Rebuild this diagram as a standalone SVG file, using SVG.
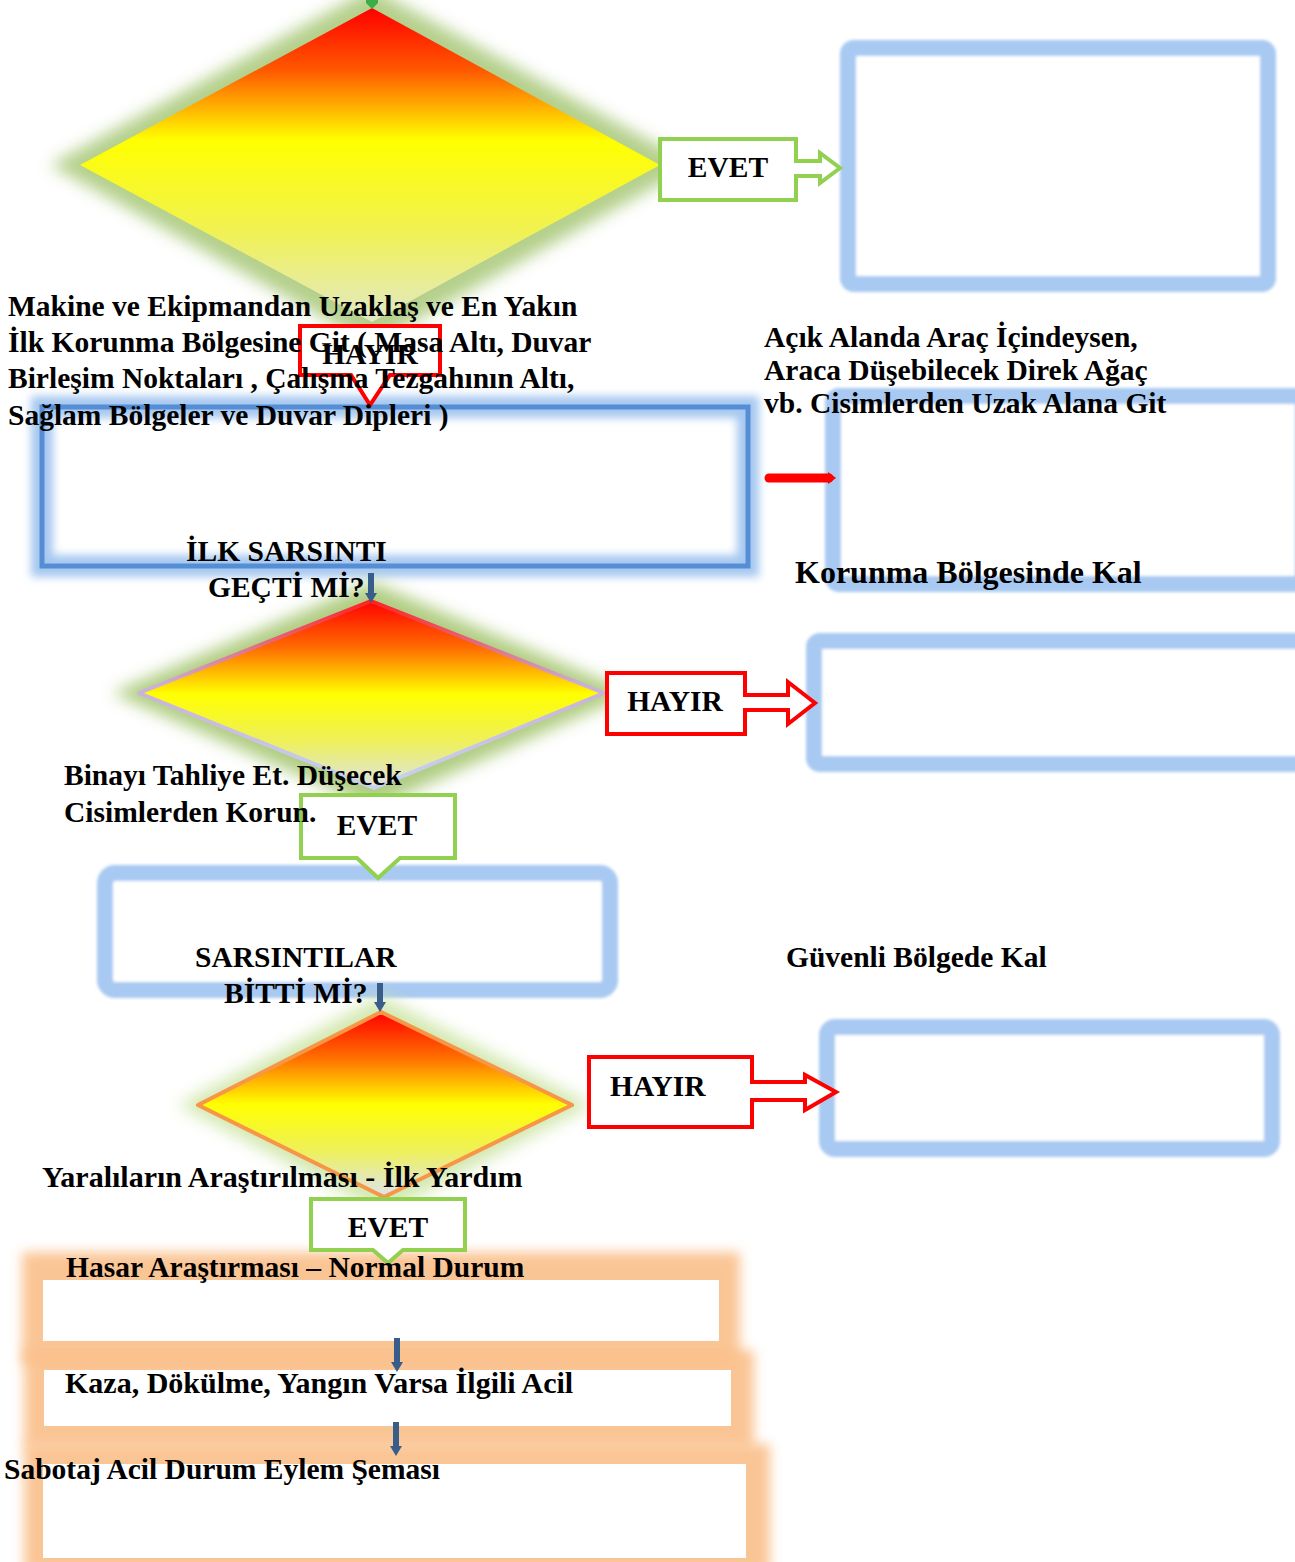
<svg xmlns="http://www.w3.org/2000/svg" width="1295" height="1562" viewBox="0 0 1295 1562">
  <style>
    .t { font-family: "Liberation Serif", "Times New Roman", serif; font-weight: bold; font-size: 29.5px; fill: #000; }
    .mid { text-anchor: middle; }
    .lbox { fill: #fff; stroke: #a8c9f1; stroke-width: 16; }
    .evet { fill: #fff; stroke: #92d050; stroke-width: 4; stroke-linejoin: miter; }
    .hayir { fill: #fff; stroke: #ff0000; stroke-width: 4; stroke-linejoin: miter; }
    .dbar { stroke: #385d8a; stroke-width: 6; fill: none; }
    .dhead { fill: #385d8a; }
    .orng { fill: #fabf8a; }
  </style>
  <defs>
    <filter id="glow" x="-20%" y="-20%" width="140%" height="140%">
      <feGaussianBlur stdDeviation="8"/>
    </filter>
    <filter id="soft" x="-10%" y="-10%" width="120%" height="120%">
      <feGaussianBlur stdDeviation="1.6"/>
    </filter>
    <filter id="halo" x="-10%" y="-20%" width="120%" height="140%">
      <feGaussianBlur stdDeviation="4"/>
    </filter>
    <filter id="oblur" x="-10%" y="-20%" width="120%" height="140%">
      <feGaussianBlur stdDeviation="6"/>
    </filter>
    <linearGradient id="g1" x1="0" y1="8" x2="0" y2="322" gradientUnits="userSpaceOnUse">
      <stop offset="0" stop-color="#ff0000"/>
      <stop offset="0.2" stop-color="#ff5a00"/>
      <stop offset="0.42" stop-color="#ffff00"/>
      <stop offset="0.7" stop-color="#f1f24f"/>
      <stop offset="1" stop-color="#e2e8c8"/>
    </linearGradient>
    <linearGradient id="g2" x1="0" y1="600" x2="0" y2="788" gradientUnits="userSpaceOnUse">
      <stop offset="0" stop-color="#ff0000"/>
      <stop offset="0.25" stop-color="#ff6a00"/>
      <stop offset="0.5" stop-color="#ffff00"/>
      <stop offset="0.75" stop-color="#eef05a"/>
      <stop offset="1" stop-color="#dde3e8"/>
    </linearGradient>
    <linearGradient id="g2s" x1="0" y1="600" x2="0" y2="788" gradientUnits="userSpaceOnUse">
      <stop offset="0" stop-color="#ff2020"/>
      <stop offset="0.45" stop-color="#c9b0d8"/>
      <stop offset="1" stop-color="#c6d3ef"/>
    </linearGradient>
    <linearGradient id="g3" x1="0" y1="1012" x2="0" y2="1197" gradientUnits="userSpaceOnUse">
      <stop offset="0" stop-color="#ff0000"/>
      <stop offset="0.25" stop-color="#ff7000"/>
      <stop offset="0.5" stop-color="#ffff00"/>
      <stop offset="0.75" stop-color="#eef05a"/>
      <stop offset="1" stop-color="#dde4f0"/>
    </linearGradient>
  </defs>

  <!-- Right column boxes (drawn first so arrow tips sit on top) -->
  <g id="box-right1">
    <rect class="lbox" x="848" y="48" width="420" height="236" rx="6" stroke-width="17" filter="url(#soft)"/>
  </g>
  <g id="box-right2">
    <rect class="lbox" x="833" y="396" width="470" height="188" rx="6" stroke-width="15" filter="url(#soft)"/>
  </g>
  <g id="box-right3">
    <rect class="lbox" x="814" y="641" width="500" height="123" rx="6" stroke="#b9d0ec" stroke-width="15" filter="url(#soft)"/>
  </g>
  <g id="box-right4">
    <rect class="lbox" x="827" y="1027" width="445" height="122" rx="8" stroke-width="17" filter="url(#soft)"/>
  </g>

  <!-- Decision 1 -->
  <g id="decision1">
    <polygon points="372,-12 50,165 372,345 694,165" fill="#a2c46e" opacity="0.8" filter="url(#glow)"/>
    <polygon points="372,8 80,165 372,322 660,165" fill="url(#g1)"/>
  </g>

  <!-- EVET 1 -->
  <g id="evet1">
    <path class="evet" d="M660,139 H796 V161 H820 V153 L840,168 L820,183 V176 H796 V200 H660 Z"/>
    <text class="t mid" x="728" y="177">EVET</text>
  </g>

  <!-- Blue box 1 -->
  <g id="box-ilk">
    <rect x="42" y="407" width="706" height="159" fill="#fff"/>
    <rect x="42" y="407" width="706" height="159" fill="none" stroke="#a6c8f0" stroke-width="22" filter="url(#halo)"/>
    <rect x="42" y="407" width="706" height="159" fill="none" stroke="#558ed5" stroke-width="5"/>
  </g>

  <!-- HAYIR 1 -->
  <g id="hayir1">
    <path class="hayir" d="M300,326 H440 V375 H390 L370,405 L351,375 H300 Z"/>
    <text class="t mid" x="370" y="364">HAYIR</text>
  </g>

  <!-- Decision 2 -->
  <g id="decision2">
    <polygon points="372,582 112,693 374,808 632,693" fill="#a3c46c" opacity="0.85" filter="url(#glow)"/>
    <polygon points="371,601 139,693 374,788 604,693" fill="url(#g2)" stroke="url(#g2s)" stroke-width="4" stroke-linejoin="round"/>
  </g>

  <!-- HAYIR 2 -->
  <g id="hayir2">
    <path class="hayir" d="M607,673 H745 V695 H788 V682 L815,703 L788,724 V710 H745 V734 H607 Z"/>
    <text class="t mid" x="675" y="711">HAYIR</text>
  </g>

  <!-- Blue box 2 -->
  <g id="box-sarsintilar">
    <rect class="lbox" x="105" y="873" width="505" height="117" rx="10" stroke-width="15" filter="url(#soft)"/>
  </g>

  <!-- EVET 2 -->
  <g id="evet2">
    <path class="evet" d="M301,795 H455 V858 H400 L378,878 L357,858 H301 Z"/>
    <text class="t mid" x="377" y="835">EVET</text>
  </g>

  <!-- Decision 3 -->
  <g id="decision3">
    <polygon points="381,996 178,1105 384,1214 592,1105" fill="#cfe6a8" opacity="0.9" filter="url(#glow)"/>
    <polygon points="381,1012 198,1105 384,1197 572,1105" fill="url(#g3)" stroke="#f79646" stroke-width="4" stroke-linejoin="round"/>
  </g>

  <!-- HAYIR 3 -->
  <g id="hayir3">
    <path class="hayir" d="M589,1057 H752 V1082 H805 V1075 L836,1092 L805,1110 V1100 H752 V1127 H589 Z"/>
    <text class="t" x="610" y="1096">HAYIR</text>
  </g>

  <!-- Orange boxes -->
  <g id="box-hasar">
    <rect class="orng" x="22" y="1252" width="718" height="112" filter="url(#oblur)" opacity="0.9"/>
    <rect x="43" y="1280" width="676" height="61" fill="#fff"/>
  </g>
  <g id="box-kaza">
    <rect class="orng" x="24" y="1350" width="730" height="98" filter="url(#oblur)" opacity="0.9"/>
    <rect x="44" y="1370" width="687" height="56" fill="#fff"/>
  </g>
  <g id="box-sabotaj">
    <rect class="orng" x="24" y="1444" width="746" height="130" filter="url(#oblur)" opacity="0.9"/>
    <rect x="43" y="1464" width="703" height="94" fill="#fff"/>
  </g>

  <!-- EVET 3 -->
  <g id="evet3">
    <path class="evet" d="M311,1199 H465 V1250 H403 L388,1263 L373,1250 H311 Z"/>
    <text class="t mid" x="388" y="1237">EVET</text>
  </g>

  <!-- Connectors -->
  <g id="connectors">
    <polygon points="366,0 378,0 378,3 372,9 366,3" fill="#3cae48"/>
    <line class="dbar" x1="371" y1="573" x2="371" y2="594"/>
    <polygon class="dhead" points="365,593 377,593 371,603"/>
    <line class="dbar" x1="380" y1="983" x2="380" y2="1003"/>
    <polygon class="dhead" points="374,1002 386,1002 380,1012"/>
    <line class="dbar" x1="397" y1="1338" x2="397" y2="1363"/>
    <polygon class="dhead" points="391,1362 403,1362 397,1372"/>
    <line class="dbar" x1="396" y1="1422" x2="396" y2="1447"/>
    <polygon class="dhead" points="390,1446 402,1446 396,1456"/>
    <line x1="769" y1="478" x2="829" y2="478" stroke="#ff0000" stroke-width="9" stroke-linecap="round"/>
    <polygon points="828,472 836,478 828,484" fill="#ff0000"/>
  </g>

  <!-- Texts -->
  <g id="labels">
    <text class="t" x="8" y="316">Makine ve Ekipmandan Uzaklaş ve En Yakın</text>
    <text class="t" x="8" y="352">İlk Korunma Bölgesine Git ( Masa Altı, Duvar</text>
    <text class="t" x="8" y="388">Birleşim Noktaları , Çalışma Tezgahının Altı,</text>
    <text class="t" x="8" y="425">Sağlam Bölgeler ve Duvar Dipleri )</text>
    <text class="t" x="764" y="347">Açık Alanda Araç İçindeysen,</text>
    <text class="t" x="764" y="380">Araca Düşebilecek Direk Ağaç</text>
    <text class="t" x="764" y="413">vb. Cisimlerden Uzak Alana Git</text>
    <text class="t" x="186" y="561" font-size="28.5">İLK SARSINTI</text>
    <text class="t" x="208" y="597" font-size="28.5">GEÇTİ Mİ?</text>
    <text class="t" x="795" y="583" style="font-size:32px">Korunma Bölgesinde Kal</text>
    <text class="t" x="64" y="785">Binayı Tahliye Et. Düşecek</text>
    <text class="t" x="64" y="822">Cisimlerden Korun.</text>
    <text class="t" x="195" y="967">SARSINTILAR</text>
    <text class="t" x="224" y="1003">BİTTİ Mİ?</text>
    <text class="t" x="786" y="967">Güvenli Bölgede Kal</text>
    <text class="t" x="42" y="1187" style="font-size:30px">Yaralıların Araştırılması - İlk Yardım</text>
    <text class="t" x="66" y="1277">Hasar Araştırması – Normal Durum</text>
    <text class="t" x="65" y="1393" style="font-size:30px">Kaza, Dökülme, Yangın Varsa İlgili Acil</text>
    <text class="t" x="4" y="1479">Sabotaj Acil Durum Eylem Şeması</text>
  </g>
</svg>
